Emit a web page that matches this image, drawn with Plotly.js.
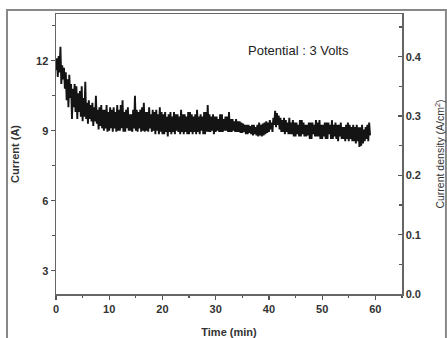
<!DOCTYPE html>
<html>
<head>
<meta charset="utf-8">
<script src="https://cdn.plot.ly/plotly-3.0.1.min.js"></script>
<style>html,body{margin:0;padding:0;background:#fff;}#chart{width:447px;height:338px;}</style>
</head>
<body>
<div id="chart"></div>
<script>
// Sampling: 6 readings per minute, rows = minute 0..58, then final reading at 59 min
const samplesPerMinute = 6;
const currentByMinute = [
  [11.6, 12.1, 11.3, 12.2, 11.5, 12.6],
  [11.0, 11.8, 11.2, 11.7, 10.8, 11.5],
  [10.3, 11.2, 10.0, 11.4, 10.4, 11.0],
  [9.5, 10.8, 10.0, 11.0, 9.8, 10.9],
  [9.5, 10.6, 9.8, 10.7, 9.6, 10.9],
  [9.4, 10.4, 9.6, 11.1, 9.5, 10.2],
  [9.3, 10.3, 9.5, 10.1, 9.4, 10.2],
  [9.2, 10.0, 9.4, 10.5, 9.3, 9.9],
  [9.05, 10.0, 9.2, 10.1, 9.1, 9.9],
  [9.0, 9.9, 9.1, 10.1, 8.95, 9.8],
  [9.0, 10.0, 9.1, 9.9, 8.95, 10.0],
  [9.1, 9.8, 8.95, 10.1, 9.0, 9.9],
  [9.0, 10.1, 9.1, 10.3, 8.95, 9.8],
  [8.95, 9.9, 9.1, 10.0, 9.0, 9.7],
  [9.0, 9.7, 8.95, 9.9, 9.1, 10.5],
  [9.0, 9.9, 8.95, 9.8, 9.1, 9.9],
  [8.95, 10.0, 9.0, 10.2, 8.95, 9.8],
  [9.0, 9.8, 8.95, 10.0, 9.1, 9.7],
  [8.95, 9.9, 9.0, 9.8, 8.85, 9.9],
  [9.0, 9.7, 8.85, 10.0, 8.95, 9.8],
  [8.85, 9.7, 8.85, 9.8, 8.95, 9.6],
  [8.75, 9.7, 8.95, 9.8, 8.85, 9.6],
  [8.95, 9.8, 8.85, 9.7, 9.0, 9.7],
  [8.95, 9.6, 8.85, 9.9, 8.95, 9.7],
  [8.85, 9.7, 8.95, 9.6, 8.85, 9.8],
  [8.85, 9.8, 8.95, 9.7, 8.85, 9.6],
  [8.95, 9.7, 8.85, 9.9, 8.95, 9.6],
  [8.85, 9.7, 9.0, 9.6, 8.85, 9.8],
  [8.85, 9.8, 8.95, 10.1, 8.95, 9.7],
  [8.95, 9.6, 9.0, 9.7, 8.85, 9.6],
  [8.95, 9.6, 9.0, 9.5, 8.95, 9.7],
  [8.95, 9.7, 8.95, 9.5, 9.0, 9.6],
  [9.0, 9.6, 8.95, 9.8, 8.95, 9.5],
  [8.95, 9.5, 9.0, 9.4, 8.95, 9.5],
  [8.95, 9.4, 8.95, 9.4, 8.9, 9.35],
  [8.9, 9.3, 8.95, 9.25, 8.85, 9.25],
  [8.85, 9.25, 8.9, 9.2, 8.85, 9.25],
  [8.8, 9.25, 8.85, 9.15, 8.8, 9.25],
  [8.75, 9.35, 8.8, 9.25, 8.75, 9.3],
  [8.8, 9.35, 8.85, 9.4, 8.9, 9.35],
  [8.95, 9.45, 9.05, 9.35, 8.95, 9.55],
  [9.25, 9.85, 9.15, 9.75, 9.25, 9.65],
  [9.05, 9.55, 8.95, 9.45, 8.95, 9.55],
  [8.85, 9.45, 8.95, 9.35, 8.85, 9.55],
  [8.85, 9.35, 8.85, 9.45, 8.75, 9.35],
  [8.75, 9.35, 8.85, 9.25, 8.75, 9.45],
  [8.75, 9.45, 8.85, 9.35, 8.75, 9.25],
  [8.75, 9.25, 8.8, 9.35, 8.65, 9.35],
  [8.65, 9.35, 8.85, 9.25, 8.75, 9.45],
  [8.75, 9.35, 8.75, 9.45, 8.65, 9.25],
  [8.65, 9.25, 8.75, 9.35, 8.65, 9.35],
  [8.65, 9.35, 8.85, 9.25, 8.65, 9.45],
  [8.65, 9.25, 8.75, 9.35, 8.65, 9.25],
  [8.55, 9.25, 8.75, 9.35, 8.65, 9.15],
  [8.65, 9.15, 8.55, 9.25, 8.65, 9.35],
  [8.55, 9.25, 8.65, 9.15, 8.55, 9.25],
  [8.55, 9.15, 8.45, 9.25, 8.55, 9.15],
  [8.3, 9.15, 8.35, 9.25, 8.45, 9.05],
  [8.55, 9.15, 8.65, 9.25, 8.55, 9.35]
];
const finalReading = [8.8];
const electrodeAreaCm2 = 30; // 12 A <-> 0.4 A/cm2 on the twin axis

const leftTicks = [3, 6, 9, 12];
const leftMinor = [4.5, 7.5, 10.5, 13.5];
const rightTicks = [0.0, 0.1, 0.2, 0.3, 0.4];
const rightTickLabels = ['0.0', '0.1', '0.2', '0.3', '0.4'];
const rightMinor = [0.05, 0.15, 0.25, 0.35, 0.45];
const xTicks = [0, 10, 20, 30, 40, 50, 60];
const xMinor = [5, 15, 25, 35, 45, 55, 65];

const current = currentByMinute.flat().concat(finalReading);
const time = current.map((_, i) => i / samplesPerMinute);
const density = current.map(v => v / electrodeAreaCm2);

const fam = 'Liberation Sans, Arial, sans-serif';
const tickFont = {family: fam, size: 11, color: '#333', weight: 'bold'};
const titleFont = {family: fam, size: 11, color: '#333', weight: 'bold'};

const traces = [
  {x: time, y: current, type: 'scatter', mode: 'lines',
   line: {color: '#141414', width: 1.9}, hoverinfo: 'skip', showlegend: false},
  {x: time, y: density, yaxis: 'y2', type: 'scatter', mode: 'lines',
   line: {color: 'rgba(0,0,0,0)', width: 0}, hoverinfo: 'skip', showlegend: false}
];

const layout = {
  width: 447, height: 338,
  margin: {l: 56, r: 45, t: 14, b: 44},
  paper_bgcolor: '#fff', plot_bgcolor: '#fff',
  showlegend: false,
  xaxis: {
    range: [0, 65], tickvals: xTicks, ticks: 'outside', ticklen: 4, tickwidth: 1.2, tickcolor: '#555',
    minor: {tickvals: xMinor, ticks: 'outside', ticklen: 2, tickcolor: '#555'},
    showline: true, linecolor: '#666', linewidth: 1.5, mirror: true,
    showgrid: false, zeroline: false, tickfont: tickFont,
    title: {text: 'Time (min)', font: titleFont, standoff: 14}
  },
  yaxis: {
    range: [2, 14], tickvals: leftTicks, ticks: 'outside', ticklen: 4, tickwidth: 1.2, tickcolor: '#555',
    minor: {tickvals: leftMinor, ticks: 'outside', ticklen: 3, tickcolor: '#555'},
    showline: true, linecolor: '#666', linewidth: 1.5,
    showgrid: false, zeroline: false, tickfont: tickFont,
    title: {text: 'Current (A)', font: titleFont, standoff: 14}
  },
  yaxis2: {
    overlaying: 'y', side: 'right', anchor: 'x',
    range: [0, 0.472], tickvals: rightTicks, ticktext: rightTickLabels,
    ticks: 'inside', ticklen: 4, tickwidth: 1.2, tickcolor: '#555',
    minor: {tickvals: rightMinor, ticks: 'inside', ticklen: 3, tickcolor: '#555'},
    showline: true, linecolor: '#666', linewidth: 1.5,
    showgrid: false, zeroline: false, tickfont: tickFont,
    title: {text: 'Current density (A/cm<sup>2</sup>)', font: {family: fam, size: 10.5, color: '#333'}, standoff: 16}
  },
  annotations: [{
    xref: 'paper', yref: 'paper', x: 0.702, y: 0.871, xanchor: 'center', yanchor: 'middle',
    text: 'Potential : 3 Volts', showarrow: false,
    font: {family: fam, size: 13, color: '#222'}
  }],
  shapes: [{
    type: 'rect', xref: 'paper', yref: 'paper',
    x0: -0.1416, x1: 1.127, y0: -0.2, y1: 1.014,
    line: {color: '#888', width: 2}, layer: 'below'
  }]
};

Plotly.newPlot('chart', traces, layout, {displayModeBar: false, staticPlot: true});
</script>
</body>
</html>
